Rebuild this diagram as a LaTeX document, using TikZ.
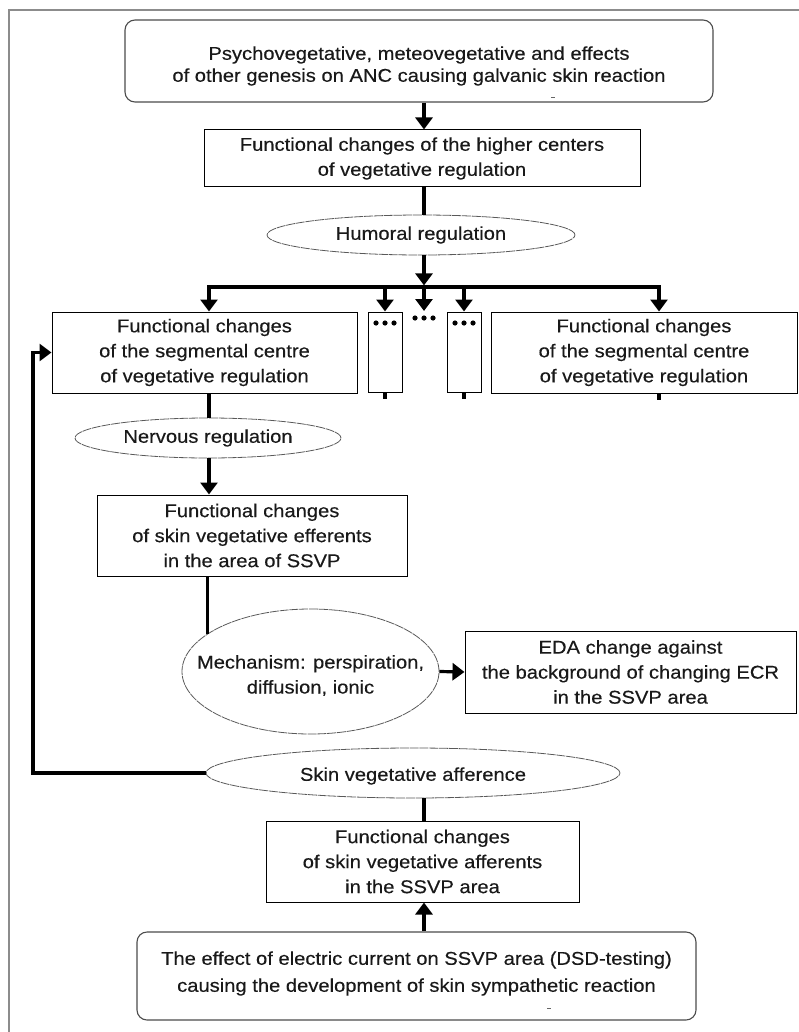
\documentclass[tikz,border=0pt]{standalone}
\usepackage{fontspec}
\setmainfont{Liberation Sans}[FakeStretch=1.09,FakeBold=0.35]
\usetikzlibrary{arrows.meta,shapes.geometric,calc}
\begin{document}
\begin{tikzpicture}[x=1pt,y=-1pt,
  font=\fontsize{18.5}{25}\selectfont,
  box/.style={draw=black, line width=1pt, inner sep=0pt, align=center, text=black!90},
  rbox/.style={draw=black!70, line width=1.1pt, rounded corners=10pt, inner sep=0pt},
  ell/.style={draw=black!65, line width=0.8pt, ellipse, inner sep=0pt, dash pattern=on 9pt off 0.8pt},
  txt/.style={inner sep=0pt, align=center, text=black!90},
  conn/.style={line width=3.2pt, black},
  arr/.style={conn, -{Triangle[width=17pt,length=12pt]}},
  dot/.style={fill=black},
]
\useasboundingbox (0,0) rectangle (799,1032);
% outer frame (only left and top visible)
\draw[black!45, line width=1.5pt] (9,1032) -- (9,10) -- (799,10);

% helper x positions
\coordinate (cx) at (424,0);
\coordinate (xL) at (209,0);
\coordinate (xR) at (659,0);
\coordinate (lp) at (33,0);
\coordinate (bar) at (424,287);
\coordinate (mdots) at (424,311);

% top
\node[rbox, minimum width=588pt, minimum height=82pt] (top) at (419,61) {};
\node[txt] (toptxt) at (419,66) {Psychovegetative, meteovegetative and effects\\[-3pt]of other genesis on ANC causing galvanic skin reaction};
\draw[black!60, line width=0.8pt] (551,97) -- (555,97);

\node[box, minimum width=436pt, minimum height=57pt] (high) at (422,158.5) {Functional changes of the higher centers\\of vegetative regulation};

\node[ell, minimum width=308pt, minimum height=40pt] (hum) at (421,235) {};
\node[txt] (humt) at (hum) {Humoral regulation};

% row of segmental centres
\node[box, minimum width=305pt, minimum height=81pt] (segL) at (204.5,352.5) {Functional changes\\of the segmental centre\\of vegetative regulation};
\node[box, minimum width=34pt, minimum height=80pt] (s1) at (385,352) {};
\node[box, minimum width=34pt, minimum height=80pt] (s2) at (464,352) {};
\node[box, minimum width=306pt, minimum height=81pt] (segR) at (644,352.5) {Functional changes\\of the segmental centre\\of vegetative regulation};

\foreach \x in {376,385,394} \fill[dot] (\x,323) circle (2.6pt);
\foreach \x in {415,424,433} \fill[dot] (\x,318) circle (2.6pt);
\foreach \x in {455,464,473} \fill[dot] (\x,323) circle (2.6pt);

\node[ell, minimum width=266pt, minimum height=40pt] (nerv) at (208,438) {};
\node[txt] (nervt) at (nerv) {Nervous regulation};

\node[box, minimum width=310pt, minimum height=81pt] (eff) at (252,535.5) {Functional changes\\of skin vegetative efferents\\in the area of SSVP};

\node[ell, minimum width=257pt, minimum height=125pt] (mech) at (310.5,671.5) {};
\node[txt] (mecht) at (310.5,675.5) {Mechanism: perspiration,\\diffusion, ionic};

\node[box, minimum width=331pt, minimum height=82pt] (eda) at (630.5,672) {EDA change against\\the background of changing ECR\\in the SSVP area};

\node[ell, minimum width=414pt, minimum height=50pt] (aff) at (413,773) {};
\node[txt] (afft) at (413,776) {Skin vegetative afference};

\node[box, minimum width=313pt, minimum height=81pt] (affb) at (422.5,861.5) {Functional changes\\of skin vegetative afferents\\in the SSVP area};

\node[rbox, minimum width=559pt, minimum height=88pt] (bot) at (416.5,976) {};
\node[txt] (bott) at (416.5,973.5) {The effect of electric current on SSVP area (DSD-testing)\\[2pt]causing the development of skin sympathetic reaction};
\draw[black!60, line width=0.8pt] (547,1008) -- (551,1008);

% connectors
\draw[arr] (top.south -| cx) -- (high.north -| cx);
\draw[conn] (high.south -| cx) -- (hum.north -| cx);
\draw[arr] (hum.south -| cx) -- ($(bar)+(0,-1.6)$);
\draw[conn, line cap=rect] (bar -| xL) -- (bar -| xR);
\draw[arr] (bar -| xL) -- (segL.north -| xL);
\draw[arr] (bar -| s1) -- (s1.north);
\draw[arr] (bar) -- (mdots);
\draw[arr] (bar -| s2) -- (s2.north);
\draw[arr] (bar -| xR) -- (segR.north -| xR);

\draw[conn] (s1.south) -- ++(0,6);
\draw[conn] (s2.south) -- ++(0,6);
\draw[conn] (segR.south -| xR) -- ++(0,6);

\draw[conn] (segL.south -| xL) -- (nerv.north -| xL);
\draw[arr] (nerv.south -| xL) -- (eff.north -| xL);
\draw[conn] (mech.160.3 |- eff.south) -- (mech.160.3);
\draw[arr] (mech.east) -- (eda.west);

\draw[arr] (aff.west) -| (lp |- segL.west) -- (segL.west);
\draw[conn] (aff.south -| cx) -- (affb.north -| cx);
\draw[arr] (bot.north -| cx) -- (affb.south -| cx);
\end{tikzpicture}
\end{document}
